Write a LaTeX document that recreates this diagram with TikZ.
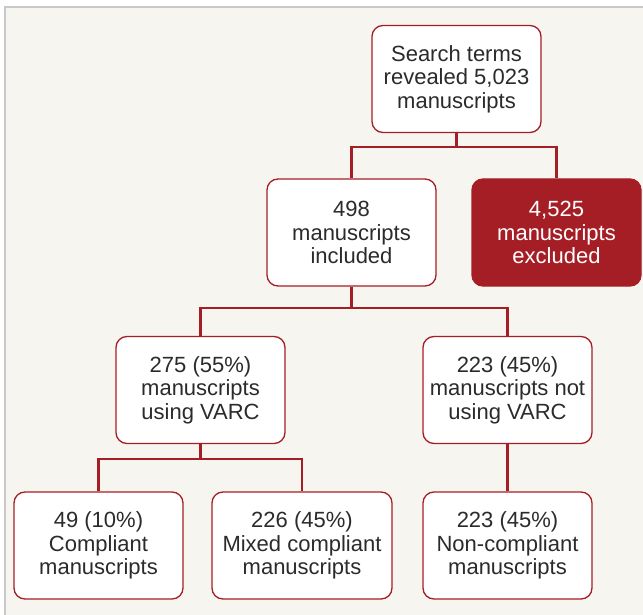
\documentclass[tikz,border=0pt]{standalone}
\usepackage{fontspec}
\setmainfont{Liberation Sans}
\definecolor{bred}{HTML}{A61E25}
\definecolor{panelbg}{HTML}{F6F5EF}
\definecolor{panelline}{HTML}{C9C9C9}
\definecolor{txt}{HTML}{2B2B2B}
\tikzset{
  box/.style={draw=bred, line width=1.3pt, fill=white, rounded corners=11pt,
    minimum width=169pt, minimum height=107pt, align=center, inner sep=2pt,
    font=\fontsize{22}{23.5}\selectfont, text=txt},
  redbox/.style={box, fill=bred, text=white},
  conn/.style={draw=bred, line width=2.6pt}
}
\begin{document}
\begin{tikzpicture}[x=1pt,y=-1pt]
\useasboundingbox (0,0) rectangle (643,615);
\fill[white] (0,0) rectangle (643,615);
\draw[draw=panelline, line width=1.5pt, fill=panelbg] (5,7) rectangle (670,640);

\node[box] (top) at (456.5,79) {Search terms\\revealed 5,023\\manuscripts};
\node[box] (inc) at (351.5,232.5) {498\\manuscripts\\included};
\node[redbox] (exc) at (556.5,232.5) {4,525\\manuscripts\\excluded};
\node[box] (use) at (200.5,390) {275 (55\%)\\manuscripts\\using VARC};
\node[box] (notuse) at (507.5,390) {223 (45\%)\\manuscripts not\\using VARC};
\node[box] (comp) at (98.5,545.5) {49 (10\%)\\Compliant\\manuscripts};
\node[box, minimum width=180pt] (mixed) at (302,545.5) {226 (45\%)\\Mixed compliant\\manuscripts};
\node[box] (noncomp) at (507.5,545.5) {223 (45\%)\\Non-compliant\\manuscripts};

\coordinate (j1) at (456.5,147);
\coordinate (j2) at (351.5,308);
\coordinate (j3) at (200.5,459);

\draw[conn] (top.south) -- (j1);
\draw[conn] (inc.north) |- (j1) -| (exc.north);
\draw[conn] (inc.south) -- (j2);
\draw[conn] (use.north) |- (j2) -| (notuse.north);
\draw[conn] (use.south) -- (j3);
\draw[conn] (comp.north) |- (j3) -| (mixed.north);
\draw[conn] (notuse.south) -- (noncomp.north);
\end{tikzpicture}
\end{document}
